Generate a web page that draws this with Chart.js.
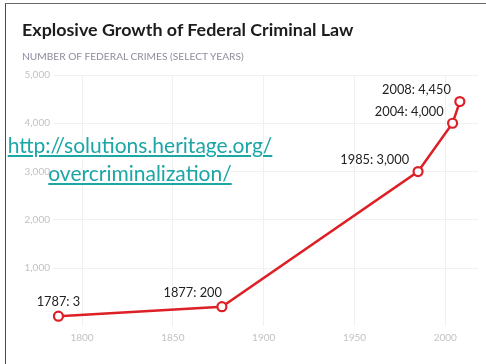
<!DOCTYPE html>
<html>
<head>
<meta charset="utf-8">
<script src="https://cdn.jsdelivr.net/npm/chart.js@4"></script>
<style>
  body { margin: 0; background: #fff; }
  #wrap { position: relative; width: 486px; height: 364px; overflow: hidden; }
  #chart { position: absolute; left: 0; top: 0; }
  .frame { position: absolute; left: 5px; top: 3px; right: 0; bottom: 0;
           border-left: 1.5px solid #4a4a4a; border-top: 1.5px solid #6a6a6a; }
  .title { position: absolute; left: 22px; top: 18px; font: bold 17.9px Lato, sans-serif; color: #1c1c1c; }
  .sub { position: absolute; left: 22px; top: 50px; font: 10.2px Lato, sans-serif; color: #8d8d9c; }
  .link { position: absolute; left: 0; width: 280px; top: 131px; text-align: center;
          font: 21px Lato, sans-serif; line-height: 28px; color: #1ca6a6; }
  .link span { text-decoration: underline; }
</style>
</head>
<body>
<div id="wrap">
  <canvas id="chart" width="486" height="364"></canvas>
  <div class="frame"></div>
  <div class="title">Explosive Growth of Federal Criminal Law</div>
  <div class="sub">NUMBER OF FEDERAL CRIMES (SELECT YEARS)</div>
  <div class="link"><span>http://solutions.heritage.org/</span><br><span>overcriminalization/</span></div>
</div>
<script>
const years = [1787, 1877, 1985, 2004, 2008];
const crimes = [3, 200, 3000, 4000, 4450];
const xTicks = [1800, 1850, 1900, 1950, 2000];
const yTicks = [1000, 2000, 3000, 4000, 5000];

const red = '#dd1f26';

// "1787: 3" style labels next to each point
const pointLabels = {
    id: 'pointLabels',
    afterDatasetsDraw(chart) {
        const ctx = chart.ctx;
        const meta = chart.getDatasetMeta(0);
        ctx.save();
        ctx.font = '12.8px Lato, sans-serif';
        ctx.fillStyle = '#222';
        ctx.textBaseline = 'bottom';
        meta.data.forEach((pt, i) => {
            const text = years[i] + ': ' + crimes[i].toLocaleString('en-US');
            if (i === 0) {
                ctx.textAlign = 'center';
                ctx.fillText(text, pt.x, pt.y - 8);
            } else if (i === 1) {
                ctx.textAlign = 'right';
                ctx.fillText(text, pt.x, pt.y - 7);
            } else {
                ctx.textAlign = 'right';
                ctx.fillText(text, pt.x - 9, pt.y - 5);
            }
        });
        ctx.restore();
    }
};

new Chart(document.getElementById('chart'), {
    type: 'line',
    data: {
        datasets: [{
            data: years.map((y, i) => ({ x: y, y: crimes[i] })),
            borderColor: red,
            borderWidth: 2.5,
            pointRadius: 4.5,
            pointBorderWidth: 2.2,
            pointBackgroundColor: '#fff',
            pointBorderColor: red,
            tension: 0
        }]
    },
    options: {
        responsive: false,
        animation: false,
        layout: { padding: { left: 15, right: 8, top: 75, bottom: 8 } },
        plugins: { legend: { display: false }, tooltip: { enabled: false } },
        scales: {
            x: {
                type: 'linear',
                min: 1784,
                max: 2018,
                afterBuildTicks: s => { s.ticks = xTicks.map(v => ({ value: v })); },
                afterFit: s => { s.height = 30; },
                border: { display: false },
                grid: { color: '#f0f0f0', drawTicks: false },
                ticks: {
                    padding: 6,
                    color: '#c2c2c2',
                    font: { family: 'Lato', size: 10 },
                    callback: v => String(v)
                }
            },
            y: {
                min: -200,
                max: 5000,
                afterBuildTicks: s => { s.ticks = yTicks.map(v => ({ value: v })); },
                afterFit: s => { s.width = 38; },
                border: { display: false },
                grid: { color: '#f0f0f0', drawTicks: false },
                ticks: {
                    padding: 3,
                    color: '#c2c2c2',
                    font: { family: 'Lato', size: 10 },
                    callback: v => v.toLocaleString('en-US')
                }
            }
        }
    },
    plugins: [pointLabels]
});
</script>
</body>
</html>
